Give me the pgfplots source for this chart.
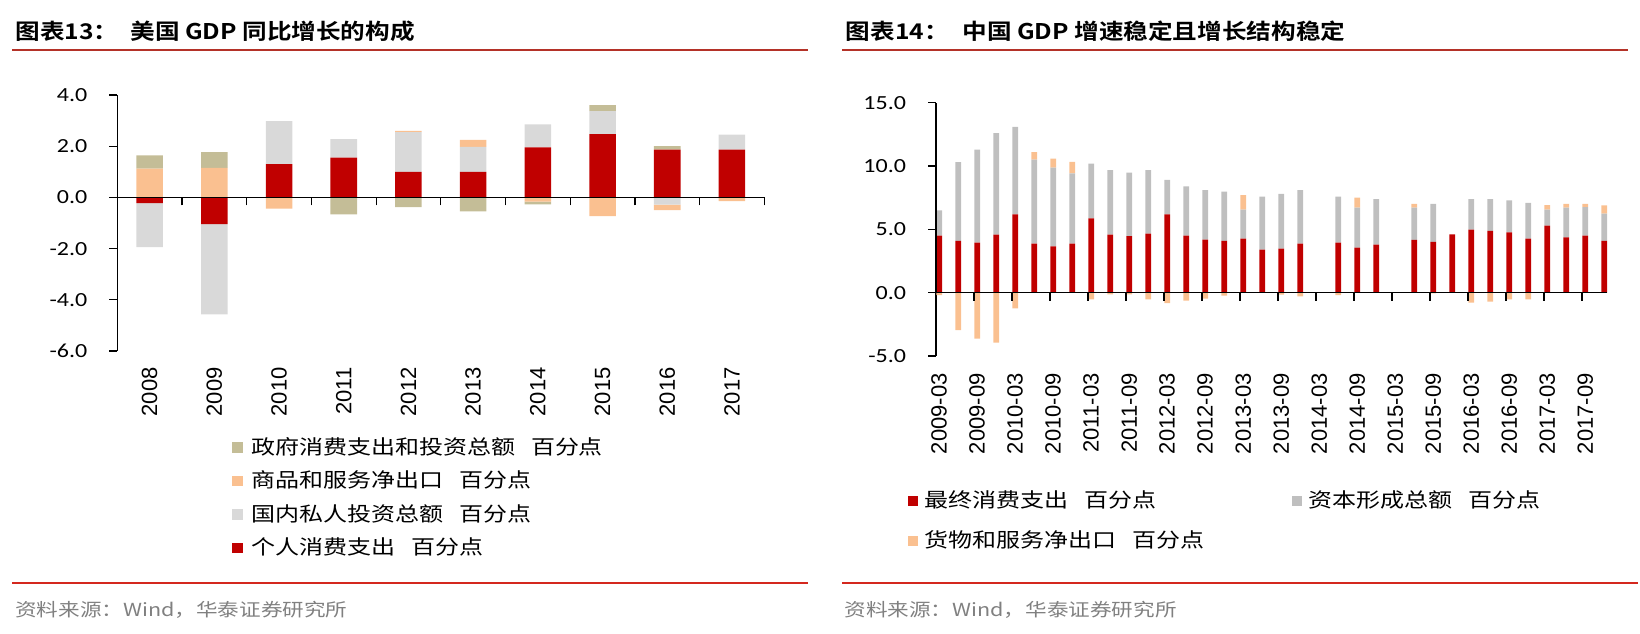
\documentclass[border=0pt]{standalone}
\usepackage{fontspec}
\usepackage{pgfplots}
\usepackage{pgfplotstable}
\pgfplotsset{compat=1.18}
\setmainfont{Liberation Sans}
\newfontfamily\cjk[FakeStretch=1.2]{Noto Sans CJK SC}
\newfontfamily\cjkt[FakeStretch=1.14]{Noto Sans CJK SC Bold}
\newfontfamily\calib[FakeStretch=1.2]{Carlito}

\definecolor{cRed}{RGB}{192,0,0}
\definecolor{cInvUS}{RGB}{217,217,217}
\definecolor{cPeach}{RGB}{250,192,144}
\definecolor{cKhaki}{RGB}{196,189,151}
\definecolor{cCapCN}{RGB}{191,191,191}
\definecolor{ruleTop}{RGB}{180,50,40}
\definecolor{ruleBot}{RGB}{212,40,30}
\definecolor{srcGray}{RGB}{128,128,128}

\pgfplotsset{
  sqlegend/.style={legend image code/.code={\fill[##1] (0pt,-2.65pt) rectangle (5.3pt,2.65pt);}},
  yfmt/.style={yticklabel style={font=\calib\fontsize{10}{12}\selectfont, anchor=east, inner xsep=10.8pt,
      /pgf/number format/.cd, fixed, fixed zerofill, precision=1, assume math mode=true}},
}

% US: contributions to GDP growth (percentage points)
\pgfplotstableread{
x cons inv nx gov
0.5 -0.22 -1.72 1.12 0.52
1.5 -1.04 -3.53 1.15 0.62
2.5 1.30 1.68 -0.44 0.00
3.5 1.55 0.73 -0.02 -0.64
4.5 1.00 1.55 0.05 -0.38
5.5 1.00 0.97 0.28 -0.55
6.5 1.95 0.90 -0.17 -0.10
7.5 2.47 0.90 -0.73 0.23
8.5 1.87 -0.28 -0.22 0.13
9.5 1.87 0.58 -0.15 0.00
}\usdata

% China: quarterly contributions (x in months from 2009-03)
\pgfplotstableread{
x cons cap nx
0.5 4.50 2.00 -0.20
3.5 4.08 6.22 -2.95
6.5 3.95 7.35 -3.63
9.5 4.58 8.02 -3.95
12.5 6.18 6.90 -1.24
15.5 3.87 6.63 0.60
18.5 3.66 6.21 0.71
21.5 3.87 5.55 0.90
24.5 5.87 4.31 -0.53
27.5 4.58 5.10 -0.13
30.5 4.47 5.00 -0.13
33.5 4.66 5.02 -0.53
36.5 6.18 2.72 -0.82
39.5 4.50 3.89 -0.63
42.5 4.18 3.92 -0.47
45.5 4.08 3.89 -0.24
48.5 4.26 2.29 1.16
51.5 3.39 4.19 0.00
54.5 3.47 4.32 -0.15
57.5 3.87 4.23 -0.30
63.5 3.95 3.63 -0.20
66.5 3.55 3.16 0.79
69.5 3.79 3.60 0.00
75.5 4.16 2.55 0.29
78.5 4.00 3.00 -0.05
81.5 4.60 0.00 0.00
84.5 4.97 2.42 -0.79
87.5 4.87 2.52 -0.71
90.5 4.76 2.53 -0.53
93.5 4.26 2.82 -0.53
96.5 5.29 1.26 0.37
99.5 4.37 2.34 0.29
102.5 4.50 2.26 0.24
105.5 4.08 2.16 0.65
}\cndata

\begin{document}
\begin{tikzpicture}
\useasboundingbox (0pt,0pt) rectangle (820pt,316.5pt);

% ---------------- Titles, rules, sources ----------------
\node[anchor=west, inner sep=0pt, font=\cjkt\fontsize{10.8}{13}\selectfont] at (7.5pt,300.75pt) {图表13：};
\node[anchor=west, inner sep=0pt, font=\cjkt\fontsize{10.8}{13}\selectfont] at (65pt,300.75pt) {美国 GDP 同比增长的构成};
\node[anchor=west, inner sep=0pt, font=\cjkt\fontsize{10.8}{13}\selectfont] at (422.7pt,300.75pt) {图表14：};
\node[anchor=west, inner sep=0pt, font=\cjkt\fontsize{10.8}{13}\selectfont] at (481pt,300.75pt) {中国 GDP 增速稳定且增长结构稳定};
\draw[ruleTop, line width=1pt] (6pt,291.6pt) -- (404pt,291.6pt);
\draw[ruleTop, line width=1pt] (421pt,291.6pt) -- (814pt,291.6pt);
\draw[ruleBot, line width=1pt] (6pt,25.25pt) -- (404pt,25.25pt);
\draw[ruleBot, line width=1pt] (421pt,25.25pt) -- (819pt,25.25pt);
\node[anchor=west, inner sep=0pt, text=srcGray, font=\cjk\fontsize{9}{11}\selectfont] at (7.4pt,11.5pt) {资料来源：Wind，华泰证券研究所};
\node[anchor=west, inner sep=0pt, text=srcGray, font=\cjk\fontsize{9}{11}\selectfont] at (422pt,11.5pt) {资料来源：Wind，华泰证券研究所};

% ---------------- Left chart: positive stack ----------------
\begin{axis}[
  at={(58.65pt,141pt)}, anchor=south west,
  width=323.5pt, height=128pt, scale only axis,
  xmin=0, xmax=10, ymin=-6, ymax=4,
  ybar stacked, bar width=0.41,
  axis on top,
  axis y line*=left, axis x line*=bottom,
  x axis line style={draw=none},
  y axis line style={line width=0.6pt},
  ytick={-6,-4,...,4}, ytick align=outside, major tick length=4pt,
  ytick style={line width=0.6pt, black},
  yfmt,
  xtick={0.5,1.5,...,9.5},
  xticklabels={2008,2009,2010,2011,2012,2013,2014,2015,2016,2017},
  xtick align=inside, xtick style={draw=none},
  xticklabel style={rotate=90, anchor=east, inner xsep=8pt, font=\fontsize{11}{13}\selectfont},
  legend style={at={(0.1773,-0.3387)}, anchor=north west, draw=none, fill=none, inner sep=0pt,
    font=\cjk\fontsize{10}{12}\selectfont, row sep=7.25pt,
    nodes={inner sep=0pt, text height=8pt, text depth=1.5pt},
    /tikz/every odd column/.append style={column sep=4pt}},
  legend cell align=left, reverse legend,
]
\addplot[fill=cRed, draw=none, sqlegend] table[x=x, y expr={max(\thisrow{cons},0)}] {\usdata};
\addlegendentry{个人消费支出\hspace{8pt}百分点}
\addplot[fill=cInvUS, draw=none, sqlegend] table[x=x, y expr={max(\thisrow{inv},0)}] {\usdata};
\addlegendentry{国内私人投资总额\hspace{8pt}百分点}
\addplot[fill=cPeach, draw=none, sqlegend] table[x=x, y expr={max(\thisrow{nx},0)}] {\usdata};
\addlegendentry{商品和服务净出口\hspace{8pt}百分点}
\addplot[fill=cKhaki, draw=none, sqlegend] table[x=x, y expr={max(\thisrow{gov},0)}] {\usdata};
\addlegendentry{政府消费支出和投资总额\hspace{8pt}百分点}
\end{axis}

% ---------------- Left chart: negative stack + zero line ----------------
\begin{axis}[
  at={(58.65pt,141pt)}, anchor=south west,
  width=323.5pt, height=128pt, scale only axis,
  xmin=0, xmax=10, ymin=-6, ymax=4,
  ybar stacked, bar width=0.41,
  axis on top,
  axis x line=middle, axis y line=none,
  x axis line style={-, line width=0.6pt},
  xtick={1,...,10}, xticklabels={}, ytick=\empty,
  xtick align=outside, major tick length=4pt,
  xtick style={line width=0.6pt, black},
]
\addplot[fill=cRed, draw=none] table[x=x, y expr={min(\thisrow{cons},0)}] {\usdata};
\addplot[fill=cInvUS, draw=none] table[x=x, y expr={min(\thisrow{inv},0)}] {\usdata};
\addplot[fill=cPeach, draw=none] table[x=x, y expr={min(\thisrow{nx},0)}] {\usdata};
\addplot[fill=cKhaki, draw=none] table[x=x, y expr={min(\thisrow{gov},0)}] {\usdata};
\end{axis}

% ---------------- Right chart: positive stack ----------------
\begin{axis}[
  at={(468pt,138.5pt)}, anchor=south west,
  width=335.67pt, height=126.67pt, scale only axis,
  xmin=0, xmax=106, ymin=-5, ymax=15,
  ybar stacked, bar width=0.9,
  axis on top,
  axis y line*=left, axis x line*=bottom,
  x axis line style={draw=none},
  y axis line style={line width=0.6pt},
  ytick={-5,0,...,15}, ytick align=outside, major tick length=4pt,
  ytick style={line width=0.6pt, black},
  yfmt,
  xtick={0.5,6.5,...,102.5},
  xticklabels={2009-03,2009-09,2010-03,2010-09,2011-03,2011-09,2012-03,2012-09,2013-03,2013-09,2014-03,2014-09,2015-03,2015-09,2016-03,2016-09,2017-03,2017-09},
  xtick align=inside, xtick style={draw=none},
  xticklabel style={rotate=90, anchor=east, inner xsep=8.5pt, font=\fontsize{11}{13}\selectfont},
  legend style={at={(-0.0426,-0.533)}, anchor=north west, draw=none, fill=none, inner sep=0pt,
    font=\cjk\fontsize{10}{12}\selectfont, row sep=10.5pt,
    nodes={inner sep=0pt, text height=8pt, text depth=1.5pt},
    /tikz/every odd column/.append style={column sep=3pt}},
  legend columns=2, legend cell align=left,
]
\addplot[fill=cRed, draw=none, sqlegend] table[x=x, y=cons] {\cndata};
\addlegendentry{\makebox[183.7pt][l]{最终消费支出\hspace{8pt}百分点}}
\addplot[fill=cCapCN, draw=none, sqlegend] table[x=x, y=cap] {\cndata};
\addlegendentry{资本形成总额\hspace{8pt}百分点}
\addplot[fill=cPeach, draw=none, sqlegend] table[x=x, y expr={max(\thisrow{nx},0)}] {\cndata};
\addlegendentry{\makebox[183.7pt][l]{货物和服务净出口\hspace{8pt}百分点}}
\end{axis}

% ---------------- Right chart: negative part + zero line ----------------
\begin{axis}[
  at={(468pt,138.5pt)}, anchor=south west,
  width=335.67pt, height=126.67pt, scale only axis,
  xmin=0, xmax=106, ymin=-5, ymax=15,
  ybar stacked, bar width=0.9,
  axis on top,
  axis x line=middle, axis y line=none,
  x axis line style={-, line width=0.6pt},
  xtick={6,12,...,102}, xticklabels={}, ytick=\empty,
  xtick align=outside, major tick length=4pt,
  xtick style={line width=0.6pt, black},
]
\addplot[fill=cPeach, draw=none] table[x=x, y expr={min(\thisrow{nx},0)}] {\cndata};
\end{axis}
\end{tikzpicture}
\end{document}
